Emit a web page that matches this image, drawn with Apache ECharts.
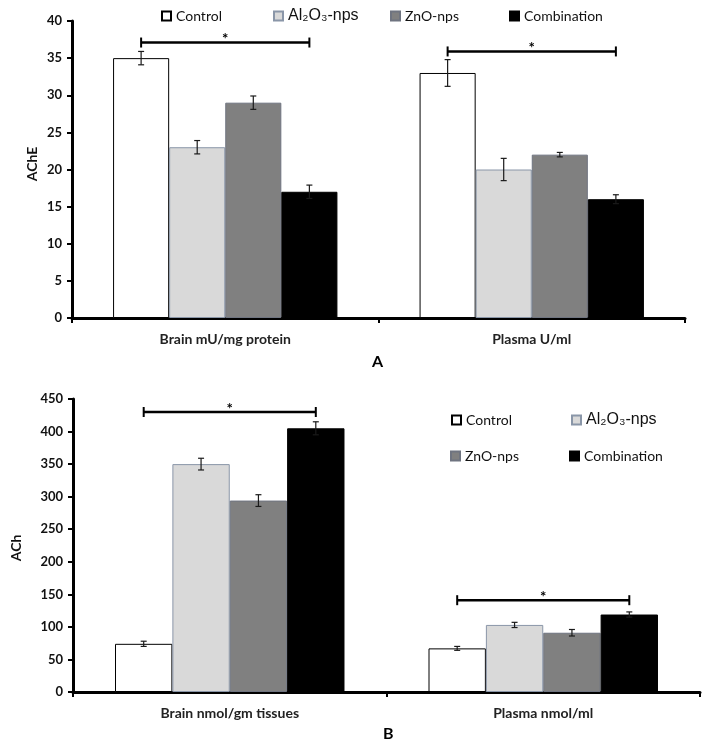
<!DOCTYPE html>
<html>
<head>
<meta charset="utf-8">
<script src="https://cdn.jsdelivr.net/npm/echarts@6.0.0/dist/echarts.min.js"></script>
<style>
html, body { margin: 0; padding: 0; background: #fff; }
#main { width: 712px; height: 750px; }
</style>
</head>
<body>
<div id="main"></div>
<script>
// series names / categories
var seriesNames = ['Control', 'Al₂O₃-nps', 'ZnO-nps', 'Combination'];
var categoriesA = ['Brain mU/mg protein', 'Plasma U/ml'];
var categoriesB = ['Brain nmol/gm tissues', 'Plasma nmol/ml'];

// A - AChE
var controlA = [35, 33];
var al2o3A = [23, 20];
var znoA = [29, 22];
var combinationA = [17, 16];
var controlErrA = [0.9, 1.8];
var al2o3ErrA = [0.9, 1.5];
var znoErrA = [0.9, 0.3];
var combinationErrA = [0.9, 0.6];
var signifA = [37.1, 35.9];   // height of the * bracket

// B - ACh
var controlB = [74, 67];
var al2o3B = [350, 103];
var znoB = [294, 91];
var combinationB = [405, 119];
var controlErrB = [4, 3];
var al2o3ErrB = [9, 4];
var znoErrB = [9, 5];
var combinationErrB = [10, 4];
var signifB = [430, 141];

var ticksA = { min: 0, max: 40, interval: 5 };
var ticksB = { min: 0, max: 450, interval: 50 };

var barRatio = 0.183;
var fills = ['#ffffff', '#d9d9d9', '#808080', '#000000'];
var borders = ['#000000', '#8a96a8', '#6f7480', '#000000'];
var labelFont = 'Lato, "Open Sans", sans-serif';

function bandWidth(params) {
    return params.coordSys.width / 2;
}

// error bars, drawn on top of the bars
function errorItem(params, api) {
    var cat = api.value(0), val = api.value(1), err = api.value(2), k = api.value(3);
    var off = (k - 1.5) * bandWidth(params) * barRatio;
    var hi = api.coord([cat, val + err]);
    var lo = api.coord([cat, val - err]);
    var x = hi[0] + off;
    var cap = 3;
    var st = { stroke: '#1a1a1a', lineWidth: 1.2 };
    return {
        type: 'group',
        children: [
            { type: 'line', shape: { x1: x, y1: hi[1], x2: x, y2: lo[1] }, style: st },
            { type: 'line', shape: { x1: x - cap, y1: hi[1], x2: x + cap, y2: hi[1] }, style: st },
            { type: 'line', shape: { x1: x - cap, y1: lo[1], x2: x + cap, y2: lo[1] }, style: st }
        ]
    };
}

// significance bracket from control to combination bar
function bracketItem(params, api) {
    var cat = api.value(0), y = api.value(1);
    var w = bandWidth(params) * barRatio;
    var p = api.coord([cat, y]);
    var x1 = p[0] - 1.5 * w, x2 = p[0] + 1.5 * w;
    var st = { stroke: '#000', lineWidth: 2.5 };
    return {
        type: 'group',
        children: [
            { type: 'line', shape: { x1: x1, y1: p[1], x2: x2, y2: p[1] }, style: st },
            { type: 'line', shape: { x1: x1, y1: p[1] - 5, x2: x1, y2: p[1] + 5 }, style: { stroke: '#000', lineWidth: 2 } },
            { type: 'line', shape: { x1: x2, y1: p[1] - 5, x2: x2, y2: p[1] + 5 }, style: { stroke: '#000', lineWidth: 2 } },
            { type: 'text', x: p[0], y: p[1] - 3, style: { text: '*', fill: '#000', font: 'bold 15px ' + labelFont, align: 'center', verticalAlign: 'middle' } }
        ]
    };
}

function errData(vals, errs, k) {
    return vals.map(function (v, i) { return [i, v, errs[i], k]; });
}

function makeBars(idx, valsList) {
    return valsList.map(function (vals, k) {
        return {
            name: seriesNames[k],
            type: 'bar',
            xAxisIndex: idx,
            yAxisIndex: idx,
            barWidth: (barRatio * 100) + '%',
            barGap: '0%',
            data: vals,
            itemStyle: { color: fills[k], borderColor: borders[k], borderWidth: 1 }
        };
    });
}

function makeErrors(idx, valsList, errList) {
    var data = [];
    valsList.forEach(function (vals, k) {
        data = data.concat(errData(vals, errList[k], k));
    });
    return {
        type: 'custom',
        xAxisIndex: idx,
        yAxisIndex: idx,
        renderItem: errorItem,
        data: data,
        z: 5,
        silent: true
    };
}

function makeBracket(idx, heights) {
    return {
        type: 'custom',
        xAxisIndex: idx,
        yAxisIndex: idx,
        renderItem: bracketItem,
        data: heights.map(function (h, i) { return [i, h]; }),
        z: 6,
        silent: true
    };
}

function xAxisOf(idx, cats) {
    return {
        type: 'category',
        gridIndex: idx,
        data: cats,
        axisLine: { lineStyle: { color: '#000', width: 3 } },
        axisTick: { show: true, length: 5, lineStyle: { color: '#000', width: 2 } },
        axisLabel: { color: '#222', fontFamily: labelFont, fontWeight: 'bold', fontSize: 14, margin: 14 }
    };
}

function yAxisOf(idx, t) {
    return {
        type: 'value',
        gridIndex: idx,
        min: t.min,
        max: t.max,
        interval: t.interval,
        splitLine: { show: false },
        axisLine: { show: true, lineStyle: { color: '#000', width: 3 } },
        axisTick: { show: true, length: 5, lineStyle: { color: '#000', width: 2 } },
        axisLabel: { color: '#111', fontFamily: labelFont, fontWeight: 'bold', fontSize: 13, margin: 10 }
    };
}

// rotated y axis title
function yTitle(text, x, y) {
    return {
        type: 'text',
        x: x,
        y: y,
        rotation: Math.PI / 2,
        style: { text: text, fill: '#111', font: 'bold 14px ' + labelFont, align: 'center', verticalAlign: 'middle' }
    };
}

function legendOf(k, left, top) {
    var big = k === 1;
    return {
        show: true,
        selectedMode: false,
        left: left,
        top: top,
        padding: 0,
        itemWidth: 9,
        itemHeight: 9,
        icon: 'rect',
        data: [seriesNames[k]],
        textStyle: {
            color: '#111',
            fontFamily: big ? '"Liberation Sans", Arial, sans-serif' : labelFont,
            fontSize: big ? 16 : 14
        }
    };
}

var chart = echarts.init(document.getElementById('main'));

var valsA = [controlA, al2o3A, znoA, combinationA];
var errsA = [controlErrA, al2o3ErrA, znoErrA, combinationErrA];
var valsB = [controlB, al2o3B, znoB, combinationB];
var errsB = [controlErrB, al2o3ErrB, znoErrB, combinationErrB];

var option = {
    animation: false,
    backgroundColor: '#fff',
    grid: [
        { left: 72, right: 27, top: 21, height: 297 },
        { left: 73, right: 12, top: 399, height: 293 }
    ],
    legend: [
        legendOf(0, 161, 9),
        legendOf(1, 273, 8),
        legendOf(2, 390, 9),
        legendOf(3, 509, 9),
        legendOf(0, 451, 413),
        legendOf(1, 571, 412),
        legendOf(2, 450, 449),
        legendOf(3, 569, 449)
    ],
    xAxis: [xAxisOf(0, categoriesA), xAxisOf(1, categoriesB)],
    yAxis: [yAxisOf(0, ticksA), yAxisOf(1, ticksB)],
    graphic: [
        yTitle('AChE', 32, 164),
        yTitle('ACh', 16, 548),
        { type: 'text', left: 372, top: 354, style: { text: 'A', fill: '#000', font: 'bold 16px ' + labelFont } },
        { type: 'text', left: 383, top: 726, style: { text: 'B', fill: '#000', font: 'bold 16px ' + labelFont } }
    ],
    series: []
        .concat(makeBars(0, valsA))
        .concat([makeErrors(0, valsA, errsA), makeBracket(0, signifA)])
        .concat(makeBars(1, valsB))
        .concat([makeErrors(1, valsB, errsB), makeBracket(1, signifB)])
};

chart.setOption(option);
</script>
</body>
</html>
